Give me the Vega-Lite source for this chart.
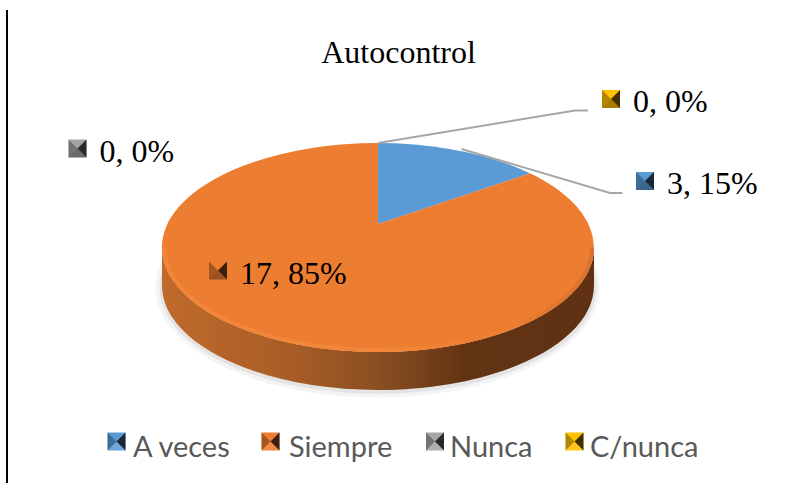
{
"$schema":"https://vega.github.io/schema/vega-lite/v6.json",
"width":787,"height":483,"padding":0,"autosize":{"type":"none"},
"background":"#ffffff",
"config":{"view":{"stroke":null}},
"title":{"text":"Autocontrol","font":"Liberation Serif","fontSize":32,"fontWeight":"normal","color":"#000000","anchor":"middle","dx":5,"dy":70,"offset":0},
"data":{"values":[
{"idx":1,"slice":"A veces","n":3,"pct":15,"label":"3, 15%"},
{"idx":2,"slice":"Siempre","n":17,"pct":85,"label":"17, 85%"},
{"idx":3,"slice":"Nunca","n":0,"pct":0,"label":"0, 0%"},
{"idx":4,"slice":"C/nunca","n":0,"pct":0,"label":"0, 0%"}
]},
"resolve":{"scale":{"x":"independent","y":"independent"}},
"layer":[
{"mark":{"type":"point","filled":true,"size":1,"opacity":0.001},
"encoding":{"color":{"field":"slice","type":"nominal","scale":{"domain":["A veces","Siempre","Nunca","C/nunca"],"range":["#5B9BD5","#ED7D31","#A5A5A5","#FFC000"]},
"legend":{"title":null,"orient":"none","legendX":101,"legendY":433,"direction":"horizontal","columns":4,"columnPadding":25,"symbolType":"square","symbolSize":324,"symbolStrokeWidth":0,"labelFont":"Lato","labelFontSize":29,"labelColor":"#595959","labelOffset":3,"labelLimit":200}}}},
{"transform":[{"filter":"datum.slice=='Siempre'"}],"mark":{"type":"point","filled":true,"size":4,"opacity":1,"color":"#dfdfdf","fillOpacity":0.35,"shape":"M-238 46 A 222 110 0 0 0 206 46 A 222 110 0 0 0 -238 46 Z"}},
{"transform":[{"filter":"datum.slice=='Siempre'"}],"mark":{"type":"point","filled":true,"size":4,"opacity":1,"color":"#d9d9d9","fillOpacity":0.6,"shape":"M-234 46 A 218 106 0 0 0 203 46 A 218 106 0 0 0 -234 46 Z"}},
{"transform":[{"filter":"datum.slice=='Siempre'"}],"mark":{"type":"point","filled":true,"size":4,"opacity":1,
"fill":{"gradient":"linear","x1":0,"y1":0,"x2":1,"y2":0,"stops":[{"offset":0,"color":"#c06a2b"},{"offset":0.3,"color":"#a85d26"},{"offset":0.5,"color":"#8a4f22"},{"offset":0.7,"color":"#633414"},{"offset":1,"color":"#5f3112"}]},
"shape":"M-231.5 6 A 216 104.5 0 0 0 200.5 6 L200.5 44 A 216 104.5 0 0 1 -231.5 44 Z"}},
{"transform":[{"filter":"datum.n>0"}],"mark":{"type":"point","filled":true,"size":4,"opacity":1},
"encoding":{
"fill":{"field":"slice","type":"nominal","legend":null,"scale":{"domain":["A veces","Siempre","Nunca","C/nunca"],"range":["#5B9BD5","#ED7D31","#A5A5A5","#FFC000"]}},
"shape":{"field":"slice","type":"nominal","legend":null,"scale":{"domain":["A veces","Siempre"],"range":["M-15.5 -17.5 L-15.5 -98.5 A 216 104.5 0 0 1 136.5 -68.2 Z","M-15.5 -17.5 L136.5 -68.2 A 216 104.5 0 1 1 -15.5 -98.5 Z"]}}
}},
{"transform":[{"filter":"datum.slice=='Siempre'"}],"mark":{"type":"point","filled":false,"size":4,"opacity":1,"strokeWidth":4,
"stroke":{"gradient":"linear","x1":0,"y1":0,"x2":1,"y2":0,"stops":[{"offset":0,"color":"#f28539"},{"offset":0.5,"color":"#f38638"},{"offset":0.8,"color":"#ed7d31"},{"offset":1,"color":"#d9722d"}]},
"shape":"M-229.5 6 A 214 102.5 0 0 0 198.5 6"}},
{"transform":[{"filter":"datum.slice=='A veces'"}],"mark":{"type":"point","filled":false,"size":4,"opacity":1,"stroke":"#a6a6a6","strokeWidth":2,"shape":"M68 -92.5 L216.5 -48.5 L229 -48.5"}},
{"transform":[{"filter":"datum.slice=='C/nunca'"}],"mark":{"type":"point","filled":false,"size":4,"opacity":1,"stroke":"#a6a6a6","strokeWidth":2,"shape":"M-15.5 -98.5 L181.5 -131 L194.5 -131"}},
{"transform":[{"filter":"datum.slice=='Siempre'"}],"mark":{"type":"point","filled":false,"size":4,"opacity":1,"stroke":"#000000","strokeWidth":2,"shape":"M-386.5 -231.5 L-386.5 241.5"}},
{"encoding":{
"x":{"field":"idx","type":"quantitative","axis":null,"scale":{"domain":[1,2,3,4],"range":[645,218,77.5,611],"zero":false,"nice":false}},
"y":{"field":"idx","type":"quantitative","axis":null,"scale":{"domain":[1,2,3,4],"range":[181,270.5,148.5,99],"zero":false,"nice":false}}},
"layer":[
{"mark":{"type":"point","filled":true,"size":4,"opacity":1,"shape":"M-9 -9 L9 -9 L9 9 L-9 9 Z"},"encoding":{"fill":{"field":"slice","type":"nominal","legend":null}}},
{"mark":{"type":"point","filled":true,"size":4,"opacity":1,"color":"#000000","fillOpacity":0.3,"shape":"M-9 -9 L0 0 L-9 9 Z"}},
{"mark":{"type":"point","filled":true,"size":4,"opacity":1,"color":"#000000","fillOpacity":0.75,"shape":"M9 -9 L0 0 L9 9 Z"}},
{"mark":{"type":"point","filled":true,"size":4,"opacity":1,"color":"#000000","fillOpacity":0.35,"shape":"M-9 9 L0 0 L9 9 Z"}},
{"mark":{"type":"text","align":"left","baseline":"alphabetic","dx":22,"dy":13,"font":"Liberation Serif","fontSize":32,"color":"#000000"},"encoding":{"text":{"field":"label","type":"nominal"}}}
]},
{"encoding":{
"x":{"field":"idx","type":"quantitative","axis":null,"scale":{"domain":[1,2,3,4],"range":[116.5,270.5,435,574.5],"zero":false,"nice":false}},
"y":{"field":"idx","type":"quantitative","axis":null,"scale":{"domain":[1,2,3,4],"range":[441.5,441.5,441.5,441.5],"zero":false,"nice":false}}},
"layer":[
{"mark":{"type":"point","filled":true,"size":4,"opacity":1,"shape":"M-9 -9 L9 -9 L9 9 L-9 9 Z"},"encoding":{"fill":{"field":"slice","type":"nominal","legend":null}}},
{"mark":{"type":"point","filled":true,"size":4,"opacity":1,"color":"#000000","fillOpacity":0.3,"shape":"M-9 -9 L0 0 L-9 9 Z"}},
{"mark":{"type":"point","filled":true,"size":4,"opacity":1,"color":"#000000","fillOpacity":0.75,"shape":"M9 -9 L0 0 L9 9 Z"}},
{"mark":{"type":"point","filled":true,"size":4,"opacity":1,"color":"#ffffff","fillOpacity":0.12,"shape":"M-9 9 L0 0 L9 9 Z"}}
]}
]
}
